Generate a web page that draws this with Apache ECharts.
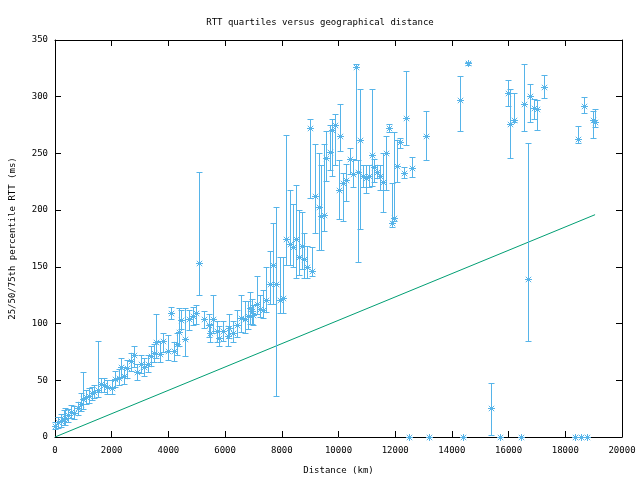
<!DOCTYPE html>
<html>
<head>
<meta charset="utf-8">
<script src="https://cdn.jsdelivr.net/npm/echarts@6/dist/echarts.min.js"></script>
<style>html,body{margin:0;padding:0;background:#fff}#c{width:640px;height:480px}</style>
</head>
<body>
<div id="c"></div>
<script>
const distances = [0,100,210,300,365,445,560,680,800,910,995,1090,1185,1300,1380,1500,1615,1735,1850,2000,
2120,2260,2315,2430,2550,2665,2785,2900,3020,3140,3290,3400,3490,3570,3720,3800,3990,4100,4190,4300,
4385,4455,4600,4715,4855,4970,5090,5240,5420,5475,5590,5710,5790,5940,6095,6140,6290,6410,6560,6700,
6800,6880,6960,7000,7110,7230,7350,7460,7580,7700,7790,7930,8050,8165,8280,8400,8490,8600,8715,8775,
8890,8980,9080,9180,9310,9370,9490,9570,9690,9770,9885,10000,10070,10175,10270,10390,10510,10600,10680,10770,
10855,10970,11090,11185,11265,11360,11465,11560,11675,11790,11890,11970,12060,12180,12300,12390,12575,13080,14280,14560,
15370,15965,16060,16175,16560,16670,16770,16880,17000,17265,18455,18655,18960,19065,
12490,13190,14390,15685,16455,18340,18550,18760];
const medians = [10,13,14.5,16,16.7,19,22,21.3,25.4,29,33.6,35,36.5,38.6,39.5,41,46.8,46,44.4,43,
51,51.8,61.4,54,60.5,67,72,57,64.3,61.4,64.3,71.6,74,84,73,84.7,76,109,76,82,
92.6,103,86.8,103.8,107,109.6,153,103.8,98.5,92,103.8,93.5,87.7,93.5,89,96.5,92,98.5,105,103.8,
106.7,114,111,107.5,117,112.5,112,120.4,135,152,134.5,120.7,122.8,174.6,170.4,167.5,174.6,158.8,168,157,
150,272.8,146,212.5,202.6,194.4,196,245.6,251.4,270.4,274.8,217.8,265,223.7,227,244.7,231.8,326,234,262,
230,228,230,248.5,237.7,234,230,225,250.5,272.8,188.6,193,239,260,233,281.6,236.8,265.4,297.3,329.8,
25.7,303.5,276.3,279.2,293.2,139.5,300.3,290.4,289.5,309,263,291.5,279.2,277.7,
0,0,0,0,0,0,0,0];
const lows = [7,8,9,11,11,13,17,16,19,23,25,29,30,33,34,35,40,40,38,38,
44,46,53,47,52,58,62,50,56,54,57,63,66,70,66,75,68,104,67,72,
80,95,71,94,99,100,125,96,88,84,92,84,80,85,80,87,84,88,93,92,
95,100,100,99,108,106,105,110,117.5,117.5,36,109.6,109.6,152,152,150,140,143,148,140,
140,210.8,141.8,180,165,165,182,226,235,230,240,192,252,190,208,232,220,244,154,183,
220,215,220,221,225,228,218,198,218,269,185,190,225,255,228,257,229,244,269.6,328,
1.4,292,245.6,277.5,269.6,85,278,280,271,299,258.8,286,264,273,
0,0,0,0,0,0,0,0];
const highs = [13,18,20,24,26,25,28,27,31,39,57,41,43,44,46,85,52,52,50,50,
58,60,70,62,68,74,80,64,72,70,72,80,82,108,85,92,90,115,84,92,
114,112,114,112,115,116,234,111,108,100,125,102,98,102,98,108,102,112,125,120,
120,128,122,116,142,125,130,150,164,188.6,202.6,159,159,266,218,205,222,200,198,180,
168,280,167.5,258,250,240,258,270,275,280,285,244,294,232.7,240.6,255,245,329,244,307,
240,240,240,307,245,240,240,250,265,276,223.7,269,262,264,237.7,322.5,246.5,287,318.7,331,
48,315,307,303.5,329,258.8,310.8,298,297.4,319,274.6,299.6,287,289.5,
0,0,0,0,0,0,0,0];
const fitDist = [0, 19050];
const fitRtt = [0, 196];
const xTicks = {min: 0, max: 20000, interval: 2000};
const yTicks = {min: 0, max: 350, interval: 50};

const FONT = 'DejaVu Sans Mono';
const FS = 9;
const BLUE = '#56b4e9';
const GREEN = '#009e73';

const barData = distances.map((d, i) => [d, lows[i], medians[i], highs[i]]);
const lineData = fitDist.map((d, i) => [d, fitRtt[i]]);

function renderItem(params, api) {
  const x = api.value(0), lo = api.value(1), med = api.value(2), hi = api.value(3);
  const pm = api.coord([x, med]);
  const pl = api.coord([x, lo]);
  const ph = api.coord([x, hi]);
  const cx = Math.round(pm[0]) + 0.5;
  const cy = Math.round(pm[1]) + 0.5;
  const yl = Math.round(pl[1]) + 0.5;
  const yh = Math.round(ph[1]) + 0.5;
  const st = {stroke: BLUE, lineWidth: 1, fill: null};
  const children = [];
  if (hi > lo) {
    children.push({type: 'line', shape: {x1: cx, y1: yl, x2: cx, y2: yh}, style: st});
    children.push({type: 'line', shape: {x1: cx - 3, y1: yl, x2: cx + 3, y2: yl}, style: st});
    children.push({type: 'line', shape: {x1: cx - 3, y1: yh, x2: cx + 3, y2: yh}, style: st});
  }
  const r = 3.5;
  children.push({type: 'line', shape: {x1: cx - r, y1: cy, x2: cx + r, y2: cy}, style: st});
  children.push({type: 'line', shape: {x1: cx, y1: cy - r, x2: cx, y2: cy + r}, style: st});
  children.push({type: 'line', shape: {x1: cx - r + 0.8, y1: cy - r + 0.8, x2: cx + r - 0.8, y2: cy + r - 0.8}, style: st});
  children.push({type: 'line', shape: {x1: cx - r + 0.8, y1: cy + r - 0.8, x2: cx + r - 0.8, y2: cy - r + 0.8}, style: st});
  return {type: 'group', children: children};
}

const plainFmt = v => String(v);

const axisCommon = {
  axisLine: {show: true, onZero: false, lineStyle: {color: '#000', width: 1}},
  axisTick: {show: true, inside: true, length: 6, lineStyle: {color: '#000'}},
  splitLine: {show: false}
};

const chart = echarts.init(document.getElementById('c'), null, {renderer: 'canvas'});
chart.setOption({
  animation: false,
  backgroundColor: '#fff',
  title: {
    text: 'RTT quartiles versus geographical distance',
    left: 'center', top: 13,
    textStyle: {fontFamily: FONT, fontSize: FS, fontWeight: 'normal', color: '#000'}
  },
  grid: {left: 52, right: 18, top: 40, bottom: 42},
  xAxis: [
    Object.assign({}, axisCommon, {
      type: 'value', position: 'bottom', min: xTicks.min, max: xTicks.max, interval: xTicks.interval,
      name: 'Distance (km)', nameLocation: 'middle', nameGap: 29,
      nameTextStyle: {fontFamily: FONT, fontSize: FS, color: '#000'},
      axisLabel: {color: '#000', fontFamily: FONT, fontSize: FS, margin: 9, formatter: plainFmt}
    }),
    Object.assign({}, axisCommon, {
      type: 'value', position: 'top', min: xTicks.min, max: xTicks.max, interval: xTicks.interval,
      axisLabel: {show: false}
    })
  ],
  yAxis: [
    Object.assign({}, axisCommon, {
      type: 'value', position: 'left', min: yTicks.min, max: yTicks.max, interval: yTicks.interval,
      name: '25/50/75th percentile RTT (ms)', nameLocation: 'middle', nameGap: 38,
      nameTextStyle: {fontFamily: FONT, fontSize: FS, color: '#000'},
      axisLabel: {color: '#000', fontFamily: FONT, fontSize: FS, margin: 7, formatter: plainFmt}
    }),
    Object.assign({}, axisCommon, {
      type: 'value', position: 'right', min: yTicks.min, max: yTicks.max, interval: yTicks.interval,
      axisLabel: {show: false}
    })
  ],
  series: [
    {
      type: 'line', data: lineData, xAxisIndex: 0, yAxisIndex: 0,
      symbol: 'none', lineStyle: {color: GREEN, width: 1}, z: 1, silent: true
    },
    {
      type: 'custom', data: barData, xAxisIndex: 0, yAxisIndex: 0,
      renderItem: renderItem, encode: {x: 0, y: [1, 2, 3]}, z: 2, clip: false, silent: true
    }
  ]
});
</script>
</body>
</html>
